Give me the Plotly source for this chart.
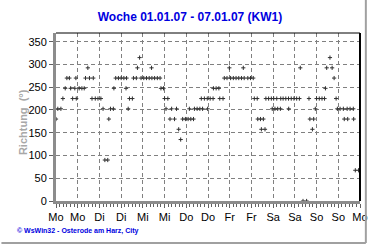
import pandas as pd
import plotly.graph_objects as go

# hours after Mon 01.01.2007 00:00 and wind direction in degrees
hours = [0, 1, 2.7, 3.8, 5.1, 6, 7.4, 8.1, 9.2, 10.4, 11, 11.2, 12.8, 14.3, 15.6, 16.3,
         17.6, 18.5, 19.9, 20.6, 21.7, 23.2, 24.8, 26, 27, 28.6, 29.2, 30.1, 31.7, 32,
         33, 34.5, 36, 37.5, 38.7, 39, 39.9, 40.6, 42.2, 42.8, 44.4, 45, 46.2, 47, 48.5,
         50, 51.5, 52.8, 53, 54.5, 56, 57.5, 58, 59.4, 60, 60.8, 61.8, 63, 63.9, 65.5,
         66.6, 67.8, 68.9, 70, 71.5, 73, 73.7, 74.5, 76, 76.5, 78, 79.5, 80.3, 81, 82,
         83.6, 83.8, 85.2, 86.8, 87, 88.5, 90, 90.5, 92.3, 93, 94.5, 95.8, 96.5, 98,
         99.5, 101, 102.5, 103.5, 104, 106, 107.5, 109, 109.6, 111.2, 111.5, 113, 113.5,
         114.6, 115.5, 116, 117.5, 119, 119.5, 120.3, 121, 122, 122.5, 124, 124.2, 125.5,
         127, 128.5, 128.6, 130, 131.5, 133, 134.5, 135, 136.5, 138.5, 139.8, 140.3,
         141.7, 142.4, 143.3, 144, 145.5, 147, 148.4, 148.9, 149.6, 151.4, 152.6, 153.7,
         154.8, 155.5, 157, 158.8, 159.3, 160.9, 161.2, 162.5, 164.3, 164.5, 165.4, 167.2]
direction = [180, 202.5, 202.5, 225, 247.5, 270, 270, 247.5, 225, 247.5, 270, 225, 247.5, 247.5, 247.5, 270,
             292.5, 270, 225, 270, 225, 225, 225, 202.5, 90, 90, 180, 202.5, 202.5, 247.5,
             270, 270, 270, 270, 247.5, 270, 202.5, 225, 225, 270, 270, 292.5, 315, 270, 270,
             270, 270, 292.5, 270, 270, 270, 270, 247.5, 247.5, 225, 202.5, 225, 180, 202.5, 180,
             202.5, 157.5, 135, 180, 180, 180, 202.5, 180, 180, 202.5, 202.5, 202.5, 225, 202.5, 225,
             225, 202.5, 225, 225, 247.5, 247.5, 247.5, 225, 225, 270, 270, 292.5, 270, 270,
             270, 270, 270, 292.5, 270, 270, 270, 270, 225, 225, 180, 180, 157.5,
             180, 157.5, 225, 225, 225, 202.5, 225, 202.5, 225, 202.5, 202.5, 225, 225,
             225, 225, 202.5, 225, 225, 225, 225, 292.5, 0, 0, 225, 180,
             157.5, 180, 202.5, 225, 225, 225, 225, 247.5, 292.5, 315, 292.5, 270,
             225, 202.5, 202.5, 202.5, 180, 202.5, 180, 202.5, 202.5, 180, 67.5, 67.5]

tick_labels = ["Mo", "Mo", "Di", "Di", "Mi", "Mi", "Do", "Do", "Fr", "Fr",
               "Sa", "Sa", "So", "So", "Mo"]
y_ticks = [0, 50, 100, 150, 200, 250, 300, 350]

start = pd.Timestamp("2007-01-01 00:00")
x = [start + pd.Timedelta(hours=h) for h in hours]
tick_vals = [start + pd.Timedelta(hours=12 * i) for i in range(len(tick_labels))]

fig = go.Figure()
fig.add_trace(go.Scatter(
    x=x, y=direction, mode="markers",
    marker=dict(symbol="cross-thin", size=3, color="black",
                line=dict(width=1, color="#303030")),
    cliponaxis=True, showlegend=False))

L, R, T, B = 56, 12, 33, 44
W, H = 380, 245
pw, ph = W - L - R, H - T - B

def px(xp):
    return (xp - L) / pw

def py(yp):
    return (H - B - yp) / ph

grid = "#808080"
fig.update_layout(
    width=W, height=H,
    margin=dict(l=L, r=R, t=T, b=B, pad=0),
    paper_bgcolor="white", plot_bgcolor="white",
    font=dict(family="Liberation Sans, Arial, sans-serif", size=11, color="black"),
    title=dict(text="<b>Woche 01.01.07 - 07.01.07 (KW1)</b>",
               font=dict(size=12, color="#0000e0"),
               x=0.5, xref="container", xanchor="center",
               y=1 - 17 / H, yref="container", yanchor="middle"),
    xaxis=dict(
        range=[tick_vals[0], tick_vals[-1]],
        tickvals=tick_vals, ticktext=tick_labels,
        showgrid=True, gridcolor=grid, griddash="4px,3px", gridwidth=1,
        showline=True, linecolor="#8c8c8c", linewidth=3,
        ticks="outside", ticklen=4, tickcolor="#606060", tickwidth=1,
        minor=dict(dtick=2 * 3600 * 1000, ticks="outside", ticklen=3,
                   tickcolor="#606060", showgrid=False),
        tickfont=dict(size=11), zeroline=False, fixedrange=True),
    yaxis=dict(
        range=[0, 369], tickvals=y_ticks,
        showgrid=True, gridcolor=grid, griddash="4px,3px", gridwidth=1,
        showline=True, linecolor="#8c8c8c", linewidth=3,
        ticks="outside", ticklen=4, tickcolor="#606060", tickwidth=1,
        tickfont=dict(size=11), zeroline=False, fixedrange=True),
)

# top and right border of the plot area
fig.add_shape(type="line", xref="paper", yref="paper", x0=0, x1=1, y0=1, y1=1,
              line=dict(color="black", width=1))
fig.add_shape(type="line", xref="paper", yref="paper", x0=1, x1=1, y0=0, y1=1,
              line=dict(color="black", width=2))
# outer panel frame (right and bottom)
fig.add_shape(type="line", xref="paper", yref="paper", x0=px(374), x1=px(374),
              y0=py(0), y1=py(243), line=dict(color="#a0a0a0", width=2))
fig.add_shape(type="line", xref="paper", yref="paper", x0=px(0), x1=px(374),
              y0=py(243), y1=py(243), line=dict(color="#a0a0a0", width=2))

fig.add_annotation(text="<b>Richtung  (°)</b>", textangle=-90,
                   xref="paper", yref="paper", x=px(14), y=py(122),
                   showarrow=False, font=dict(size=11, color="#a8a8a8"))
fig.add_annotation(text="<b>© WsWin32 - Osterode am Harz, City</b>",
                   xref="paper", yref="paper", x=px(14), y=py(231),
                   xanchor="left", yanchor="middle", showarrow=False,
                   font=dict(size=7, color="#0000e0"))

fig.write_html("out.html")
